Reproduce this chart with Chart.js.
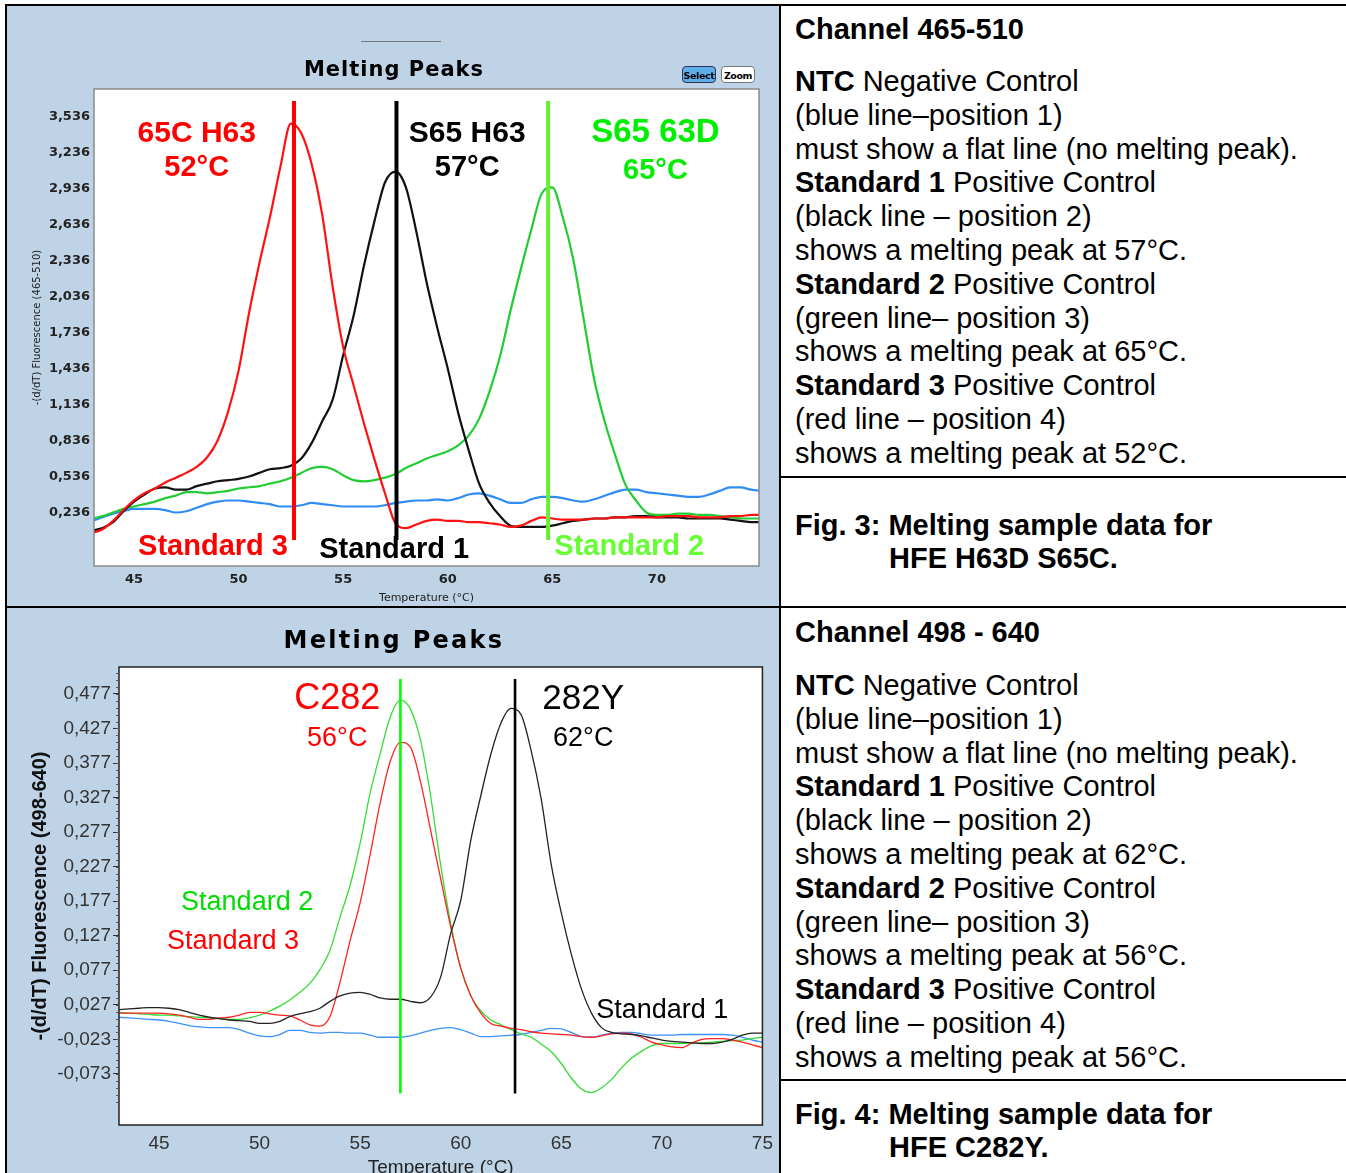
<!DOCTYPE html>
<html lang="en">
<head>
<meta charset="UTF-8">
<title>Melting Peaks - HFE H63D S65C / C282Y</title>
<script src="https://cdn.jsdelivr.net/npm/chart.js"></script>
<style>
  body { margin: 0; background: #fff; }
  #page { position: relative; width: 1346px; height: 1173px; overflow: hidden; font-family: "Liberation Sans", Arial, sans-serif; color: #000; }
  .cell { position: absolute; background: #bfd3e6; }
  .rule { position: absolute; background: #000; }
  canvas { position: absolute; }
  .txt { position: absolute; left: 795px; font-size: 29px; line-height: 33.8px; white-space: nowrap; }
  .txt b { font-weight: bold; }
  .head { font-weight: bold; }
  .cap { font-weight: bold; line-height: 33px; }
  .cap .ind { padding-left: 94px; }
  .btn { position: absolute; top: 66px; height: 17px; width: 34px; border-radius: 4px; font: bold 9.5px "DejaVu Sans", sans-serif; text-align: center; line-height: 17px; box-sizing: border-box; letter-spacing: -0.4px; }
  #sel { left: 682px; background: #5eaee8; border: 1px solid #335; }
  #zoom { left: 721px; background: #fff; border: 1px solid #777; }
  #tline { position: absolute; left: 361px; top: 41px; width: 80px; height: 1px; background: #7a7a7a; }
</style>
</head>
<body>
<div id="page">
  <div class="cell" style="left:7px; top:6px; width:773px; height:601px;"></div>
  <div class="cell" style="left:7px; top:608px; width:773px; height:565px;"></div>

  <canvas id="topChart" width="772" height="599" style="left:8px; top:7px;"></canvas>
  <canvas id="botChart" width="772" height="564" style="left:8px; top:609px;"></canvas>

  <div id="tline"></div>
  <div class="btn" id="sel">Select</div>
  <div class="btn" id="zoom">Zoom</div>

  <div class="rule" style="left:5px; top:4px; width:1341px; height:2px;"></div>
  <div class="rule" style="left:5px; top:4px; width:2px; height:1169px;"></div>
  <div class="rule" style="left:779px; top:4px; width:2px; height:1169px;"></div>
  <div class="rule" style="left:5px; top:606px; width:1341px; height:2px;"></div>
  <div class="rule" style="left:780px; top:476px; width:566px; height:2px;"></div>
  <div class="rule" style="left:780px; top:1079px; width:566px; height:2px;"></div>

  <div class="txt head" style="top:13px;">Channel 465-510</div>
  <div class="txt" style="top:65px;">
    <b>NTC</b> Negative Control<br>
    (blue line–position 1)<br>
    must show a flat line (no melting peak).<br>
    <b>Standard 1</b> Positive Control<br>
    (black line – position 2)<br>
    shows a melting peak at 57°C.<br>
    <b>Standard 2</b> Positive Control<br>
    (green line– position 3)<br>
    shows a melting peak at 65°C.<br>
    <b>Standard 3</b> Positive Control<br>
    (red line – position 4)<br>
    shows a melting peak at 52°C.
  </div>
  <div class="txt cap" style="top:509px;">Fig. 3: Melting sample data for<br><span class="ind">HFE H63D S65C.</span></div>

  <div class="txt head" style="top:616px;">Channel 498 - 640</div>
  <div class="txt" style="top:669px;">
    <b>NTC</b> Negative Control<br>
    (blue line–position 1)<br>
    must show a flat line (no melting peak).<br>
    <b>Standard 1</b> Positive Control<br>
    (black line – position 2)<br>
    shows a melting peak at 62°C.<br>
    <b>Standard 2</b> Positive Control<br>
    (green line– position 3)<br>
    shows a melting peak at 56°C.<br>
    <b>Standard 3</b> Positive Control<br>
    (red line – position 4)<br>
    shows a melting peak at 56°C.
  </div>
  <div class="txt cap" style="top:1098px;">Fig. 4: Melting sample data for<br><span class="ind">HFE C282Y.</span></div>
</div>

<script>
// temperature steps shared by every curve (°C)
const temps = [43, 43.5, 44, 44.5, 45, 45.5, 46, 46.5, 47, 47.5,
  48, 48.5, 49, 49.5, 50, 50.5, 51, 51.5, 52, 52.5,
  53, 53.5, 54, 54.5, 55, 55.5, 56, 56.5, 57, 57.5,
  58, 58.5, 59, 59.5, 60, 60.5, 61, 61.5, 62, 62.5,
  63, 63.5, 64, 64.5, 65, 65.5, 66, 66.5, 67, 67.5,
  68, 68.5, 69, 69.5, 70, 70.5, 71, 71.5, 72, 72.5,
  73, 73.5, 74, 74.5, 75];

// Channel 465-510 (Fig. 3)
const topNTC = [0.17, 0.20, 0.23, 0.25, 0.27, 0.27, 0.27, 0.26, 0.24, 0.25,
  0.28, 0.31, 0.33, 0.34, 0.34, 0.33, 0.32, 0.31, 0.29, 0.29,
  0.30, 0.32, 0.31, 0.30, 0.29, 0.29, 0.29, 0.29, 0.30, 0.32,
  0.33, 0.34, 0.34, 0.35, 0.34, 0.36, 0.39, 0.40, 0.38, 0.35,
  0.32, 0.32, 0.35, 0.37, 0.37, 0.36, 0.34, 0.33, 0.35, 0.38,
  0.41, 0.43, 0.43, 0.41, 0.40, 0.39, 0.38, 0.37, 0.37, 0.39,
  0.42, 0.45, 0.45, 0.43, 0.42];
const topStd1 = [0.09, 0.11, 0.16, 0.25, 0.33, 0.39, 0.44, 0.45, 0.43, 0.43,
  0.46, 0.48, 0.50, 0.51, 0.52, 0.54, 0.57, 0.60, 0.61, 0.63,
  0.69, 0.82, 1.00, 1.18, 1.55, 1.88, 2.30, 2.67, 2.99, 3.08,
  2.95, 2.58, 2.15, 1.78, 1.44, 1.07, 0.76, 0.48, 0.32, 0.21,
  0.13, 0.12, 0.12, 0.12, 0.13, 0.15, 0.17, 0.18, 0.19, 0.19,
  0.20, 0.20, 0.21, 0.21, 0.20, 0.20, 0.20, 0.19, 0.19, 0.19,
  0.19, 0.18, 0.17, 0.16, 0.16];
const topStd2 = [0.19, 0.21, 0.24, 0.27, 0.29, 0.31, 0.33, 0.36, 0.38, 0.41,
  0.41, 0.40, 0.41, 0.42, 0.44, 0.45, 0.46, 0.48, 0.50, 0.53,
  0.57, 0.61, 0.62, 0.60, 0.55, 0.51, 0.50, 0.51, 0.53, 0.56,
  0.61, 0.65, 0.69, 0.72, 0.75, 0.80, 0.88, 1.02, 1.25, 1.54,
  1.92, 2.27, 2.60, 2.90, 2.95, 2.70, 2.35, 1.85, 1.35, 1.00,
  0.72, 0.47, 0.34, 0.24, 0.22, 0.22, 0.23, 0.23, 0.22, 0.22,
  0.21, 0.20, 0.19, 0.19, 0.19];
const topStd3 = [0.07, 0.10, 0.17, 0.26, 0.34, 0.40, 0.44, 0.49, 0.53, 0.57,
  0.62, 0.70, 0.84, 1.08, 1.42, 1.90, 2.32, 2.70, 3.12, 3.48,
  3.40, 3.14, 2.72, 2.12, 1.62, 1.30, 0.98, 0.68, 0.40, 0.15,
  0.11, 0.14, 0.17, 0.18, 0.17, 0.17, 0.16, 0.16, 0.15, 0.14,
  0.12, 0.13, 0.17, 0.20, 0.19, 0.18, 0.18, 0.18, 0.19, 0.19,
  0.20, 0.20, 0.20, 0.20, 0.20, 0.21, 0.21, 0.21, 0.20, 0.20,
  0.20, 0.21, 0.21, 0.22, 0.22];
const topPeakTemps = [52.65, 57.55, 64.8];   // Standard 3, 1, 2
const topXTicks = [45, 50, 55, 60, 65, 70];
const topYTicks = [0.236, 0.536, 0.836, 1.136, 1.436, 1.736, 2.036, 2.336, 2.636, 2.936, 3.236, 3.536];

// Channel 498-640 (Fig. 4)
const botNTC = [0.009, 0.008, 0.007, 0.006, 0.005, 0.003, 0.000, -0.003, -0.005, -0.006,
  -0.006, -0.006, -0.009, -0.014, -0.018, -0.019, -0.016, -0.010, -0.010, -0.013,
  -0.014, -0.013, -0.013, -0.014, -0.014, -0.017, -0.020, -0.020, -0.020, -0.018,
  -0.014, -0.010, -0.007, -0.006, -0.009, -0.014, -0.019, -0.019, -0.018, -0.017,
  -0.016, -0.013, -0.010, -0.007, -0.008, -0.013, -0.019, -0.020, -0.017, -0.014,
  -0.013, -0.013, -0.015, -0.017, -0.017, -0.017, -0.016, -0.016, -0.016, -0.016,
  -0.016, -0.017, -0.020, -0.024, -0.027];
const botStd1 = [0.020, 0.021, 0.022, 0.023, 0.023, 0.022, 0.020, 0.016, 0.012, 0.009,
  0.007, 0.005, 0.004, 0.003, 0.000, 0.000, 0.003, 0.010, 0.014, 0.017,
  0.022, 0.032, 0.040, 0.044, 0.045, 0.042, 0.037, 0.035, 0.035, 0.032,
  0.030, 0.038, 0.067, 0.130, 0.178, 0.265, 0.330, 0.390, 0.435, 0.456,
  0.447, 0.395, 0.325, 0.230, 0.160, 0.100, 0.050, 0.015, -0.006, -0.013,
  -0.015, -0.016, -0.018, -0.021, -0.024, -0.026, -0.027, -0.028, -0.029, -0.029,
  -0.027, -0.023, -0.017, -0.014, -0.014];
const botStd2 = [0.016, 0.015, 0.014, 0.013, 0.012, 0.012, 0.011, 0.010, 0.009, 0.008,
  0.007, 0.006, 0.006, 0.008, 0.012, 0.018, 0.025, 0.034, 0.045, 0.058,
  0.078, 0.106, 0.154, 0.200, 0.261, 0.334, 0.391, 0.444, 0.468, 0.455,
  0.410, 0.330, 0.230, 0.145, 0.080, 0.040, 0.018, 0.005, -0.002, -0.009,
  -0.015, -0.020, -0.030, -0.041, -0.058, -0.079, -0.095, -0.100, -0.093, -0.081,
  -0.064, -0.050, -0.040, -0.032, -0.029, -0.029, -0.029, -0.028, -0.028, -0.027,
  -0.026, -0.025, -0.024, -0.022, -0.020];
const botStd3 = [0.015, 0.015, 0.015, 0.015, 0.015, 0.014, 0.012, 0.009, 0.006, 0.006,
  0.008, 0.009, 0.012, 0.016, 0.016, 0.014, 0.012, 0.011, 0.005, -0.002,
  -0.004, 0.010, 0.060, 0.120, 0.175, 0.245, 0.320, 0.380, 0.407, 0.400,
  0.350, 0.280, 0.210, 0.140, 0.080, 0.040, 0.015, 0.000, -0.004, -0.007,
  -0.009, -0.012, -0.014, -0.015, -0.016, -0.017, -0.019, -0.020, -0.018, -0.015,
  -0.014, -0.015, -0.020, -0.027, -0.031, -0.034, -0.035, -0.028, -0.023, -0.022,
  -0.022, -0.024, -0.027, -0.031, -0.035];
const botPeakTemps = [57.0, 62.7];   // Standard 2/3, Standard 1
const botXTicks = [45, 50, 55, 60, 65, 70, 75];
const botYTicks = [-0.073, -0.023, 0.027, 0.077, 0.127, 0.177, 0.227, 0.277, 0.327, 0.377, 0.427, 0.477];

const commaFmt = v => v.toFixed(3).replace('.', ',');
const pts = vals => temps.map((t, i) => ({ x: t, y: vals[i] }));

function curve(label, vals, color, width) {
  return { label, data: pts(vals), borderColor: color, borderWidth: width, pointRadius: 0,
           cubicInterpolationMode: 'monotone', fill: false };
}
function peakLine(t, y0, y1, color, width) {
  return { label: 'peak', data: [{ x: t, y: y0 }, { x: t, y: y1 }], borderColor: color,
           borderWidth: width, pointRadius: 0, fill: false };
}

// plot background, frame, minor ticks, title and in-plot notes
const framePlugin = {
  id: 'frame',
  beforeDraw(chart) {
    const { ctx, chartArea: a } = chart;
    ctx.save();
    ctx.fillStyle = '#ffffff';
    ctx.fillRect(a.left, a.top, a.right - a.left, a.bottom - a.top);
    ctx.restore();
  },
  afterDatasetsDraw(chart, args, o) {
    const { ctx, scales: { x, y } } = chart;
    ctx.save();
    ctx.textAlign = 'center';
    ctx.textBaseline = 'middle';
    (o.notes || []).forEach(n => {
      ctx.font = n.font;
      ctx.fillStyle = n.color;
      ctx.fillText(n.text, x.getPixelForValue(n.t), y.getPixelForValue(n.v));
    });
    ctx.restore();
  },
  afterDraw(chart, args, o) {
    const { ctx, chartArea: a, scales: { y } } = chart;
    ctx.save();
    ctx.strokeStyle = o.frameColor;
    ctx.lineWidth = o.frameWidth;
    ctx.strokeRect(a.left, a.top, a.right - a.left, a.bottom - a.top);
    if (o.minor) {
      ctx.lineWidth = 1;
      ctx.strokeStyle = o.minor.color;
      ctx.beginPath();
      for (let v = o.minor.from; v <= o.minor.to + 1e-9; v += o.minor.step) {
        const py = Math.round(y.getPixelForValue(v)) + 0.5;
        ctx.moveTo(a.left - o.minor.len, py);
        ctx.lineTo(a.left, py);
      }
      ctx.stroke();
    }
    ctx.font = o.titleFont;
    ctx.fillStyle = '#000';
    ctx.textAlign = 'center';
    ctx.textBaseline = 'middle';
    if ('letterSpacing' in ctx) ctx.letterSpacing = o.titleSpacing;
    ctx.fillText('Melting Peaks', chart.width / 2, o.titleY);
    ctx.restore();
  }
};

const topTickFont = { family: 'DejaVu Sans', weight: 'bold', size: 13 };
const topNoteFont = 'bold 30px "Liberation Sans", Arial';
const topSubFont = 'bold 29px "Liberation Sans", Arial';

new Chart(document.getElementById('topChart'), {
  type: 'line',
  data: {
    datasets: [
      peakLine(topPeakTemps[0], 3.669, 0.011, '#ff0000', 4),
      peakLine(topPeakTemps[1], 3.669, 0.011, '#000000', 4),
      peakLine(topPeakTemps[2], 3.669, 0.011, '#66ee33', 4),
      curve('Standard 3', topStd3, '#ff1111', 2.2),
      curve('Standard 1', topStd1, '#111111', 2.2),
      curve('Standard 2', topStd2, '#22cc33', 2.2),
      curve('NTC', topNTC, '#2f8cf5', 2.2)
    ]
  },
  options: {
    responsive: false,
    animation: false,
    devicePixelRatio: 1,
    layout: { padding: { left: 0, right: 21, top: 82, bottom: 0 } },
    plugins: {
      legend: { display: false },
      tooltip: { enabled: false },
      frame: {
        frameColor: '#8a8a8a', frameWidth: 1.5,
        titleFont: 'bold 21px "DejaVu Sans"', titleSpacing: '1px', titleY: 64,
        notes: [
          { text: '65C H63', t: 48.0, v: 3.40, color: '#ff0000', font: topNoteFont },
          { text: '52°C', t: 48.0, v: 3.11, color: '#ff0000', font: topSubFont },
          { text: 'S65 H63', t: 60.93, v: 3.40, color: '#000000', font: topNoteFont },
          { text: '57°C', t: 60.93, v: 3.11, color: '#000000', font: topSubFont },
          { text: 'S65 63D', t: 69.93, v: 3.40, color: '#00ee00', font: 'bold 33px "Liberation Sans", Arial' },
          { text: '65°C', t: 69.93, v: 3.086, color: '#00ee00', font: topSubFont },
          { text: 'Standard 3', t: 48.78, v: -0.047, color: '#ff0000', font: topSubFont },
          { text: 'Standard 1', t: 57.44, v: -0.072, color: '#000000', font: topSubFont },
          { text: 'Standard 2', t: 68.68, v: -0.047, color: '#66ff33', font: topSubFont }
        ]
      }
    },
    scales: {
      x: {
        type: 'linear', min: 43.09, max: 74.88,
        afterBuildTicks: s => { s.ticks = topXTicks.map(v => ({ value: v })); },
        afterFit: s => { s.height = 40; },
        grid: { display: false, drawTicks: false },
        border: { display: false },
        ticks: { font: topTickFont, color: '#222', padding: 6, maxRotation: 0, autoSkip: false, callback: v => String(v) },
        title: { display: true, text: 'Temperature (°C)', color: '#222',
                 font: { family: 'DejaVu Sans', size: 11, lineHeight: 1.2 }, padding: { top: 0, bottom: 1 } }
      },
      y: {
        min: -0.206, max: 3.769,
        afterBuildTicks: s => { s.ticks = topYTicks.map(v => ({ value: v })); },
        afterFit: s => { s.width = 86; },
        grid: { display: false, drawTicks: false },
        border: { display: false },
        ticks: { font: topTickFont, color: '#222', padding: 4, autoSkip: false, callback: v => commaFmt(v) },
        title: { display: true, text: '-(d/dT) Fluorescence (465-510)', color: '#222',
                 font: { family: 'DejaVu Sans', size: 10, lineHeight: 1.2 }, padding: { top: 23, bottom: 0 } }
      }
    }
  },
  plugins: [framePlugin]
});

const botTickFont = { family: 'Liberation Sans', size: 19 };
const botNoteFont = '27px "Liberation Sans", Arial';

new Chart(document.getElementById('botChart'), {
  type: 'line',
  data: {
    datasets: [
      peakLine(botPeakTemps[0], 0.4987, -0.1013, '#00ff00', 2.6),
      peakLine(botPeakTemps[1], 0.4987, -0.1013, '#000000', 2.6),
      curve('Standard 1', botStd1, '#222222', 1.3),
      curve('Standard 3', botStd3, '#ff2222', 1.3),
      curve('Standard 2', botStd2, '#33dd33', 1.3),
      curve('NTC', botNTC, '#3a92ff', 1.3)
    ]
  },
  options: {
    responsive: false,
    animation: false,
    devicePixelRatio: 1,
    layout: { padding: { left: 0, right: 17, top: 58, bottom: 0 } },
    plugins: {
      legend: { display: false },
      tooltip: { enabled: false },
      frame: {
        frameColor: '#222', frameWidth: 1.5,
        titleFont: 'bold 24px "DejaVu Sans"', titleSpacing: '2.3px', titleY: 33,
        minor: { from: -0.113, to: 0.507, step: 0.01, len: 3, color: '#555' },
        notes: [
          { text: 'C282', t: 53.86, v: 0.4698, color: '#ff0000', font: '36px "Liberation Sans", Arial' },
          { text: '56°C', t: 53.86, v: 0.4118, color: '#ff0000', font: botNoteFont },
          { text: '282Y', t: 66.09, v: 0.4698, color: '#000000', font: '35px "Liberation Sans", Arial' },
          { text: '62°C', t: 66.09, v: 0.4118, color: '#000000', font: botNoteFont },
          { text: 'Standard 2', t: 49.38, v: 0.1756, color: '#00dd00', font: botNoteFont },
          { text: 'Standard 3', t: 48.68, v: 0.119, color: '#ff0000', font: botNoteFont },
          { text: 'Standard 1', t: 70.02, v: 0.019, color: '#000000', font: botNoteFont }
        ]
      }
    },
    scales: {
      x: {
        type: 'linear', min: 43.01, max: 75,
        afterBuildTicks: s => { s.ticks = botXTicks.map(v => ({ value: v })); },
        afterFit: s => { s.height = 48; },
        grid: { display: false, drawTicks: false },
        border: { display: false },
        ticks: { font: botTickFont, color: '#333', padding: 7, maxRotation: 0, autoSkip: false, callback: v => String(v) },
        title: { display: true, text: 'Temperature (°C)', color: '#222',
                 font: { family: 'Liberation Sans', size: 19, lineHeight: 1.2 }, padding: { top: 0, bottom: -6 } }
      },
      y: {
        min: -0.147, max: 0.516,
        afterBuildTicks: s => { s.ticks = botYTicks.map(v => ({ value: v })); },
        afterFit: s => { s.width = 111; },
        grid: { display: true, drawOnChartArea: false, drawTicks: true, tickLength: 6, color: '#333' },
        border: { display: false },
        ticks: { font: botTickFont, color: '#333', padding: 2, autoSkip: false, callback: v => commaFmt(v) },
        title: { display: true, text: '-(d/dT) Fluorescence (498-640)', color: '#111',
                 font: { family: 'Liberation Sans', size: 20, weight: 'bold', lineHeight: 1.2 }, padding: { top: 20, bottom: 0 } }
      }
    }
  },
  plugins: [framePlugin]
});
</script>
</body>
</html>
